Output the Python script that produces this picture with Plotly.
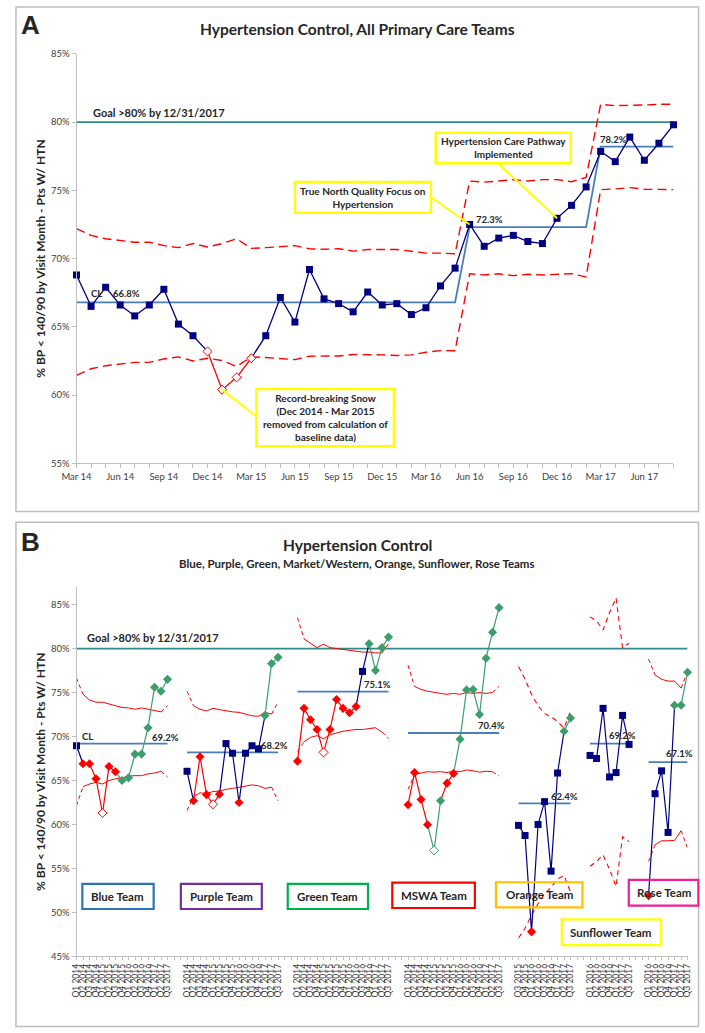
import plotly.graph_objects as go

W, H = 705, 1033

# ---------------- Panel A data ----------------
A_MONTHS = ["Mar 14", "Apr 14", "May 14", "Jun 14", "Jul 14", "Aug 14", "Sep 14", "Oct 14",
            "Nov 14", "Dec 14", "Jan 15", "Feb 15", "Mar 15", "Apr 15", "May 15", "Jun 15",
            "Jul 15", "Aug 15", "Sep 15", "Oct 15", "Nov 15", "Dec 15", "Jan 16", "Feb 16",
            "Mar 16", "Apr 16", "May 16", "Jun 16", "Jul 16", "Aug 16", "Sep 16", "Oct 16",
            "Nov 16", "Dec 16", "Jan 17", "Feb 17", "Mar 17", "Apr 17", "May 17", "Jun 17",
            "Jul 17", "Aug 17"]
A_TICK_LABELS = ["Mar 14", "Jun 14", "Sep 14", "Dec 14", "Mar 15", "Jun 15", "Sep 15",
                 "Dec 15", "Mar 16", "Jun 16", "Sep 16", "Dec 16", "Mar 17", "Jun 17"]
A_PCT = [68.8, 66.5, 67.9, 66.6, 65.8, 66.6, 67.75, 65.2, 64.35, 63.2,
         60.4, 61.3, 62.7, 64.35, 67.15, 65.35, 69.2, 67.05, 66.7, 66.1,
         67.55, 66.6, 66.7, 65.9, 66.4, 68.0, 69.3, 72.5, 70.9, 71.5,
         71.7, 71.25, 71.1, 72.95, 73.9, 75.25, 77.85, 77.1, 78.9, 77.2,
         78.45, 79.8]
A_SNOW_MONTHS = ["Dec 14", "Jan 15", "Feb 15", "Mar 15"]
A_CL_VALUES = [66.8, 72.3, 78.2]
A_CL_STARTS = ["Mar 14", "Jun 16", "Mar 17"]
A_UCL = [72.2, 71.7, 71.45, 71.3, 71.2, 71.2, 70.95, 70.8, 71.1, 70.85,
         71.1, 71.45, 70.75, 70.8, 70.9, 70.95, 70.72, 70.68, 70.72, 70.55,
         70.66, 70.66, 70.66, 70.54, 70.4, 70.4, 70.35,
         75.68, 75.6, 75.68, 75.78, 75.68, 75.78, 75.78, 75.63, 75.95,
         81.3, 81.2, 81.2, 81.25, 81.3, 81.3]
A_LCL = [61.45, 61.93, 62.15, 62.3, 62.4, 62.4, 62.65, 62.8, 62.5, 62.7,
         62.53, 62.1, 62.8, 62.75, 62.7, 62.6, 62.85, 62.85, 62.87, 62.97,
         62.97, 62.95, 62.9, 62.95, 63.14, 63.26, 63.25,
         68.89, 68.8, 68.89, 68.75, 68.85, 68.8, 68.85, 68.9, 68.65,
         75.05, 75.1, 75.2, 75.08, 75.05, 75.05]
GOAL = 80.0
Y_TICKS = [55, 60, 65, 70, 75, 80, 85]
B_Y_TICKS = [45, 50, 55, 60, 65, 70, 75, 80, 85]

# ---------------- Panel B data ----------------
QUARTERS = ["Q1 2014", "Q2 2014", "Q3 2014", "Q4 2014", "Q1 2015", "Q2 2015", "Q3 2015",
            "Q4 2015", "Q1 2016", "Q2 2016", "Q3 2016", "Q4 2016", "Q1 2017", "Q2 2017",
            "Q3 2017"]
TEAMS = ["Blue Team", "Purple Team", "Green Team", "MSWA Team", "Orange Team",
         "Sunflower Team", "Rose Team"]
TEAM_FIRST_Q = ["Q1 2014", "Q1 2014", "Q1 2014", "Q1 2014", "Q3 2015", "Q1 2016", "Q1 2016"]
TEAM_CL = [69.2, 68.2, 75.1, 70.4, 62.4, 69.2, 67.1]

BLUE_PCT = [68.95, 66.9, 66.9, 65.2, 61.3, 66.6, 66.0, 65.0, 65.3, 68.0, 68.0, 71.0, 75.6, 75.15, 76.5]
BLUE_FLAG = ["b", "r", "r", "r", "ro", "r", "r", "g", "g", "g", "g", "g", "g", "g", "g"]
BLUE_UCL = [76.65, 74.8, 74.15, 73.9, 73.9, 73.7, 73.5, 73.3, 73.25, 73.1, 73.25, 73.1, 72.9, 72.8, 73.5]
BLUE_LCL = [62.15, 64.3, 64.6, 64.8, 64.6, 65.0, 65.2, 65.3, 65.5, 65.55, 65.55, 65.75, 65.85, 66.05, 65.4]

PURPLE_PCT = [66.05, 62.7, 67.7, 63.4, 62.3, 63.45, 69.2, 68.1, 62.5, 68.1, 68.95, 68.6, 72.4, 78.3, 79.0]
PURPLE_FLAG = ["b", "r", "r", "r", "ro", "r", "b", "b", "r", "b", "b", "b", "g", "g", "g"]
PURPLE_UCL = [75.15, 73.5, 73.1, 72.9, 73.2, 73.05, 72.9, 72.8, 72.75, 72.55, 72.35, 72.3, 72.75, 72.55, 73.9]
PURPLE_LCL = [61.6, 63.15, 63.6, 63.5, 63.75, 63.8, 64.0, 64.1, 64.25, 64.4, 64.5, 64.4, 64.1, 64.25, 62.7]

GREEN_PCT = [67.2, 73.2, 71.9, 70.8, 68.2, 70.8, 74.2, 73.2, 72.7, 73.4, 77.4, 80.55, 77.5, 80.1, 81.3]
GREEN_FLAG = ["r", "r", "r", "r", "ro", "r", "r", "r", "r", "r", "b", "g", "g", "g", "g"]
GREEN_UCL = [83.5, 81.1, 80.55, 80.1, 80.5, 80.1, 80.0, 79.9, 79.8, 79.7, 79.6, 79.6, 79.5, 79.5, 80.55]
GREEN_LCL = [68.3, 69.4, 69.9, 70.1, 69.75, 70.2, 70.4, 70.6, 70.7, 70.8, 70.8, 70.9, 71.0, 70.5, 69.75]

MSWA_PCT = [62.25, 65.9, 62.85, 59.98, 57.05, 62.7, 64.7, 65.8, 69.7, 75.3, 75.35, 72.5, 78.9, 81.85, 84.65]
MSWA_FLAG = ["r", "r", "r", "r", "go", "g", "r", "r", "g", "g", "g", "g", "g", "g", "g"]
MSWA_UCL = [78.1, 75.7, 75.35, 75.15, 75.0, 74.9, 74.8, 74.9, 74.8, 75.0, 74.9, 75.0, 74.9, 75.0, 75.7]
MSWA_LCL = [64.0, 65.7, 65.85, 66.0, 65.95, 66.0, 65.9, 66.1, 66.0, 66.2, 66.1, 65.95, 66.05, 66.0, 65.5]

ORANGE_PCT = [59.9, 58.75, 47.8, 60.0, 62.6, 54.7, 65.85, 70.6, 72.1]
ORANGE_FLAG = ["b", "b", "r", "b", "b", "b", "b", "g", "g"]
ORANGE_UCL = [77.95, 76.5, 74.8, 73.5, 72.6, 72.25, 71.7, 70.95, 72.9]
ORANGE_LCL = [47.1, 48.2, 49.7, 51.0, 52.1, 52.85, 53.8, 54.2, 52.3]

SUNFLOWER_PCT = [67.85, 67.5, 73.2, 65.4, 65.9, 72.4, 69.1]
SUNFLOWER_FLAG = ["b", "b", "b", "b", "b", "b", "b"]
SUNFLOWER_UCL = [83.6, 83.15, 82.1, 84.1, 85.75, 80.1, 80.6]
SUNFLOWER_LCL = [55.25, 55.8, 56.55, 54.9, 52.95, 58.6, 58.05]

ROSE_PCT = [51.9, 63.5, 66.1, 59.1, 73.55, 73.55, 77.3]
ROSE_FLAG = ["r", "b", "b", "b", "g", "g", "g"]
ROSE_UCL = [78.8, 77.0, 76.5, 76.3, 76.3, 75.5, 77.4]
ROSE_LCL = [55.8, 57.7, 58.15, 58.15, 58.2, 59.3, 57.3]

TEAM_PCT = [BLUE_PCT, PURPLE_PCT, GREEN_PCT, MSWA_PCT, ORANGE_PCT, SUNFLOWER_PCT, ROSE_PCT]
TEAM_FLAG = [BLUE_FLAG, PURPLE_FLAG, GREEN_FLAG, MSWA_FLAG, ORANGE_FLAG, SUNFLOWER_FLAG, ROSE_FLAG]
TEAM_UCL = [BLUE_UCL, PURPLE_UCL, GREEN_UCL, MSWA_UCL, ORANGE_UCL, SUNFLOWER_UCL, ROSE_UCL]
TEAM_LCL = [BLUE_LCL, PURPLE_LCL, GREEN_LCL, MSWA_LCL, ORANGE_LCL, SUNFLOWER_LCL, ROSE_LCL]

# ---------------- styles / layout ----------------
NAVY = "#000080"
RED = "#FF0000"
GREEN = "#3C9D6D"
CLBLUE = "#4A7EBB"
TEAL = "#2D8C8C"
GRAY = "#BFBFBF"
TXT = "#262626"
TICK = "#404040"
FONT = "Lato"
SEG_COLORS = {"navy": NAVY, "red": RED, "green": GREEN}
TEAM_BOX_COLORS = ["#2E75B6", "#7030A0", "#00B050", "#FF0000", "#FFC000", "#FFFF00", "#EE1E9A"]
TEAM_BOX_PX = [(69.3, 887.3, 142.7, 912.7), (170.7, 887.3, 254, 912.7), (280.7, 887.3, 363.3, 912.7),
               (388.3, 886, 473.3, 911.7), (495, 885.7, 584, 911), (562.7, 923.3, 665, 949.3),
               (631.7, 883.3, 703.3, 909.3)]
TEAM_CL_LABEL_PX = [(154.5, 739), (267.5, 747), (373, 686), (490.5, 727), (565.5, 799),
                    (625.5, 737), (684, 756)]
TEAM_ALL_DASHED = [False, False, False, False, True, True, False]
GROUP_GAP = 2

# pixel geometry of plot areas
A_X0, A_X1, A_YT, A_YB = 63.3, 677.7, 48.3, 462.3
A_YR = (55, 85)
B_X0, B_X1, B_YT, B_YB = 63.3, 692.2, 587.2, 960.7
B_YR = (45, 87)


def P(x, y):
    return x / W, 1 - y / H


def a_px_to_data(px, py):
    xd = (px - A_X0) / (A_X1 - A_X0) * (len(A_MONTHS) - 1)
    yd = A_YR[1] - (py - A_YT) / (A_YB - A_YT) * (A_YR[1] - A_YR[0])
    return xd, yd


fig = go.Figure()


def seg_color(f0, f1):
    if f0 == "b" or f1 == "b":
        return "navy"
    if f1.startswith("g"):
        return "green"
    return "red"


def add_series(xs, ys, flags, xa, ya, lw):
    runs = {"navy": ([], []), "red": ([], []), "green": ([], [])}
    last_end = {k: None for k in runs}
    for i in range(len(xs) - 1):
        c = seg_color(flags[i], flags[i + 1])
        rx, ry = runs[c]
        if last_end[c] == i:
            rx.append(xs[i + 1]); ry.append(ys[i + 1])
        else:
            if rx:
                rx.append(None); ry.append(None)
            rx.extend([xs[i], xs[i + 1]]); ry.extend([ys[i], ys[i + 1]])
        last_end[c] = i + 1
    for c in ["navy", "green", "red"]:
        rx, ry = runs[c]
        if rx:
            fig.add_trace(go.Scatter(x=rx, y=ry, mode="lines", xaxis=xa, yaxis=ya,
                                     line=dict(color=SEG_COLORS[c], width=lw),
                                     hoverinfo="skip", cliponaxis=False))
    styles = {
        "b": dict(symbol="square", color=NAVY, size=7, line=dict(width=0)),
        "r": dict(symbol="diamond", color=RED, size=7, line=dict(width=0)),
        "ro": dict(symbol="diamond", color="white", size=7, line=dict(color=RED, width=1)),
        "g": dict(symbol="diamond", color=GREEN, size=7, line=dict(width=0)),
        "go": dict(symbol="diamond", color="white", size=7, line=dict(color=GREEN, width=1)),
    }
    for key, st in styles.items():
        px = [x for x, f in zip(xs, flags) if f == key]
        py = [y for y, f in zip(ys, flags) if f == key]
        if px:
            fig.add_trace(go.Scatter(x=px, y=py, mode="markers", xaxis=xa, yaxis=ya,
                                     marker=st, hoverinfo="skip", cliponaxis=False))


# ================= Panel A =================
ax_idx = list(range(len(A_MONTHS)))
a_flags = ["ro" if m in A_SNOW_MONTHS else "b" for m in A_MONTHS]
cl_start_idx = [A_MONTHS.index(m) for m in A_CL_STARTS]
a_cl = []
for i in ax_idx:
    ph = max(k for k, s in enumerate(cl_start_idx) if s <= i)
    a_cl.append(A_CL_VALUES[ph])

fig.add_trace(go.Scatter(x=[ax_idx[0], ax_idx[-1]], y=[GOAL, GOAL], mode="lines", xaxis="x", yaxis="y",
                         line=dict(color=TEAL, width=1.8), hoverinfo="skip"))
fig.add_trace(go.Scatter(x=ax_idx, y=A_UCL, mode="lines", xaxis="x", yaxis="y",
                         line=dict(color=RED, width=1.4, dash="9px,5px"), hoverinfo="skip"))
fig.add_trace(go.Scatter(x=ax_idx, y=A_LCL, mode="lines", xaxis="x", yaxis="y",
                         line=dict(color=RED, width=1.4, dash="9px,5px"), hoverinfo="skip"))
fig.add_trace(go.Scatter(x=ax_idx, y=a_cl, mode="lines", xaxis="x", yaxis="y",
                         line=dict(color=CLBLUE, width=1.8), hoverinfo="skip"))
add_series(ax_idx, A_PCT, a_flags, "x", "y", 1.3)

# ================= Panel B =================
starts = []
pos = 0
for t in range(len(TEAMS)):
    starts.append(pos)
    n = len(TEAM_PCT[t])
    pos += n + GROUP_GAP
n_slots = starts[-1] + len(TEAM_PCT[-1])
b_ticktext = [""] * n_slots

fig.add_trace(go.Scatter(x=[0, n_slots - 1], y=[GOAL, GOAL], mode="lines", xaxis="x2", yaxis="y2",
                         line=dict(color=TEAL, width=1.8), hoverinfo="skip"))

for t in range(len(TEAMS)):
    n = len(TEAM_PCT[t])
    xs = list(range(starts[t], starts[t] + n))
    q0 = QUARTERS.index(TEAM_FIRST_Q[t])
    for k, x in enumerate(xs):
        b_ticktext[x] = QUARTERS[q0 + k]
    for lim in (TEAM_UCL[t], TEAM_LCL[t]):
        if TEAM_ALL_DASHED[t]:
            fig.add_trace(go.Scatter(x=xs, y=lim, mode="lines", xaxis="x2", yaxis="y2",
                                     line=dict(color=RED, width=1.1, dash="5px,4px"), hoverinfo="skip"))
        else:
            fig.add_trace(go.Scatter(x=xs[1:-1], y=lim[1:-1], mode="lines", xaxis="x2", yaxis="y2",
                                     line=dict(color=RED, width=1.0), hoverinfo="skip"))
            fig.add_trace(go.Scatter(x=[xs[0], xs[1], None, xs[-2], xs[-1]],
                                     y=[lim[0], lim[1], None, lim[-2], lim[-1]],
                                     mode="lines", xaxis="x2", yaxis="y2",
                                     line=dict(color=RED, width=1.0, dash="4px,3px"), hoverinfo="skip"))
    fig.add_trace(go.Scatter(x=[xs[0], xs[-1]], y=[TEAM_CL[t], TEAM_CL[t]], mode="lines",
                             xaxis="x2", yaxis="y2", line=dict(color=CLBLUE, width=1.8), hoverinfo="skip"))
    add_series(xs, TEAM_PCT[t], TEAM_FLAG[t], "x2", "y2", 1.2)

# ================= axes =================
axis_common = dict(showgrid=False, zeroline=False, showline=True, linecolor=GRAY, linewidth=1,
                   ticks="outside", tickcolor=GRAY, ticklen=4,
                   tickfont=dict(family=FONT, size=9.5, color=TICK))
a_ticktext = [m if m in A_TICK_LABELS else "" for m in A_MONTHS]
fig.update_layout(
    xaxis=dict(domain=[A_X0 / W, A_X1 / W], range=[0, len(A_MONTHS) - 1], anchor="y",
               tickmode="array", tickvals=ax_idx, ticktext=a_ticktext, tickangle=0, **axis_common),
    yaxis=dict(domain=[1 - A_YB / H, 1 - A_YT / H], range=list(A_YR), anchor="x",
               tickmode="array", tickvals=Y_TICKS, ticktext=[f"{v}%" for v in Y_TICKS], **axis_common),
    xaxis2=dict(domain=[B_X0 / W, B_X1 / W], range=[0, n_slots - 1], anchor="y2",
                tickmode="array", tickvals=list(range(n_slots)), ticktext=b_ticktext, tickangle=-90,
                **{**axis_common, "ticklen": 3, "tickfont": dict(family=FONT, size=8.5, color=TICK)}),
    yaxis2=dict(domain=[1 - B_YB / H, 1 - B_YT / H], range=list(B_YR), anchor="x2",
                tickmode="array", tickvals=B_Y_TICKS, ticktext=[f"{v}%" for v in B_Y_TICKS], **axis_common),
)

# ================= shapes & annotations =================
shapes = []
annos = []


def text(px, py, s, size, bold=True, xanchor="center", color=TXT, angle=0, family=FONT):
    x, y = P(px, py)
    annos.append(dict(x=x, y=y, xref="paper", yref="paper", text=f"<b>{s}</b>" if bold else s,
                      showarrow=False, xanchor=xanchor, yanchor="middle", textangle=angle,
                      font=dict(family=family, size=size, color=color)))


def rect(x0, y0, x1, y1, color, width, fill="rgba(0,0,0,0)"):
    (a, b), (c, d) = P(x0, y0), P(x1, y1)
    shapes.append(dict(type="rect", xref="paper", yref="paper", x0=a, y0=d, x1=c, y1=b,
                       line=dict(color=color, width=width), fillcolor=fill, layer="above"))


# panel borders
rect(1, 1, 703.5, 511, GRAY, 1.5)
rect(1, 521.7, 703.5, 1031.5, GRAY, 1.5)

# panel letters and titles
text(16, 19, "A", 26, family="Liberation Sans")
text(16, 542, "B", 26, family="Liberation Sans")
text(352, 23, "Hypertension Control, All Primary Care Teams", 15.5)
text(352, 545, "Hypertension Control", 15.5)
text(352, 563, "Blue, Purple, Green, Market/Western, Orange, Sunflower, Rose Teams", 11.5)
ytitle = "% BP < 140/90 by Visit Month - Pts W/ HTN"
text(26, (A_YT + A_YB) / 2, ytitle, 12, angle=-90)
text(26, (B_YT + B_YB) / 2, ytitle, 12, angle=-90)
text(78, 108, "Goal >80% by 12/31/2017", 11, xanchor="left")
text(72, 638, "Goal >80% by 12/31/2017", 11, xanchor="left")

# panel A CL labels
text(84, 291, "CL", 9.5)
for (px, py), v in zip([(115, 291), (488.5, 216), (615.5, 135)], A_CL_VALUES):
    text(px, py, f"{v:.1f}%", 9.5)

# panel A callout boxes
callouts = [
    ((288, 178, 428, 209), "True North Quality Focus on<br>Hypertension", (428, 193), "Jun 16"),
    ((433, 128, 572, 159), "Hypertension Care Pathway<br>Implemented", (497, 159), "Dec 16"),
    ((248.5, 387, 390, 445), "Record-breaking Snow<br>(Dec 2014 - Mar 2015<br>removed from calculation of<br>baseline data)",
     (248.5, 415), "Jan 15"),
]
for (x0, y0, x1, y1), s, (lx, ly), month in callouts:
    i = A_MONTHS.index(month)
    dx, dy = a_px_to_data(lx, ly)
    shapes.append(dict(type="line", xref="x", yref="y", x0=dx, y0=dy, x1=ax_idx[i], y1=A_PCT[i],
                       line=dict(color="#FFFF00", width=2), layer="above"))
    rect(x0, y0, x1, y1, "#FFFF00", 2.5, fill="white")
    text((x0 + x1) / 2, (y0 + y1) / 2, s, 10)

# panel B CL labels and team boxes
text(74.7, 738, "CL", 9.5)
for t in range(len(TEAMS)):
    px, py = TEAM_CL_LABEL_PX[t]
    text(px, py, f"{TEAM_CL[t]:.1f}%", 9.5)
    x0, y0, x1, y1 = TEAM_BOX_PX[t]
    rect(x0, y0, x1, y1, TEAM_BOX_COLORS[t], 2.2)
    text((x0 + x1) / 2, (y0 + y1) / 2, TEAMS[t], 11.5)

fig.update_layout(
    width=W, height=H, margin=dict(l=0, r=0, t=0, b=0), autosize=False,
    paper_bgcolor="white", plot_bgcolor="white", showlegend=False,
    shapes=shapes, annotations=annos, hovermode=False,
)

fig.write_html("out.html", config={"displayModeBar": False},
               post_script="document.body.style.margin='0px';document.body.style.overflow='hidden';")
